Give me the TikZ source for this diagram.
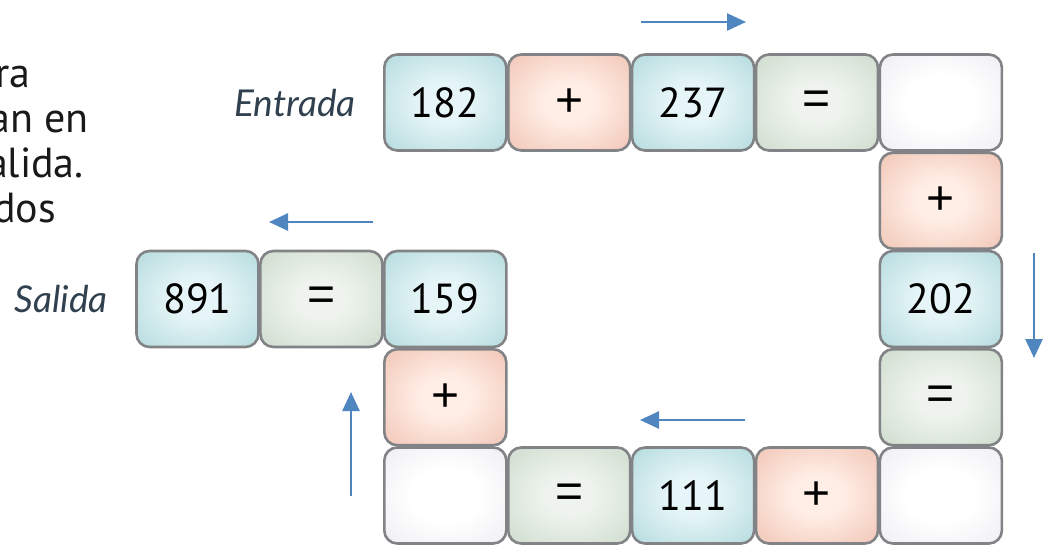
\documentclass[tikz,border=0pt]{standalone}
\usepackage{fontspec}
\setmainfont{PT Sans}
\newfontfamily\labelfont{Lato}
\newfontfamily\opfont{Liberation Sans}
\usetikzlibrary{arrows.meta}
\definecolor{tileborder}{RGB}{130,131,134}
\definecolor{arrowblue}{RGB}{79,134,192}
\definecolor{labelgray}{RGB}{48,64,78}
\definecolor{bA}{RGB}{230,245,247}
\definecolor{bB}{RGB}{180,219,222}
\definecolor{bC}{RGB}{150,199,204}
\definecolor{rA}{RGB}{255,238,230}
\definecolor{rB}{RGB}{241,198,182}
\definecolor{rC}{RGB}{226,165,144}
\definecolor{gA}{RGB}{238,244,237}
\definecolor{gB}{RGB}{207,220,207}
\definecolor{gC}{RGB}{174,193,178}
\definecolor{wA}{RGB}{255,255,255}
\definecolor{wB}{RGB}{237,237,242}
\definecolor{wC}{RGB}{197,198,208}
\pgfdeclareradialshading{blueglow}{\pgfpoint{0bp}{0bp}}{color(0bp)=(bA); color(10bp)=(bA); color(36bp)=(bB); color(50bp)=(bC); color(75bp)=(bC)}
\pgfdeclareradialshading{redglow}{\pgfpoint{0bp}{0bp}}{color(0bp)=(rA); color(10bp)=(rA); color(36bp)=(rB); color(50bp)=(rC); color(75bp)=(rC)}
\pgfdeclareradialshading{greenglow}{\pgfpoint{0bp}{0bp}}{color(0bp)=(gA); color(10bp)=(gA); color(36bp)=(gB); color(50bp)=(gC); color(75bp)=(gC)}
\pgfdeclareradialshading{whiteglow}{\pgfpoint{0bp}{0bp}}{color(0bp)=(wA); color(14bp)=(wA); color(38bp)=(wB); color(50bp)=(wC); color(75bp)=(wC)}
\tikzset{
  tile/.style={shade, draw=tileborder, line width=2.6pt, rounded corners=13pt,
    minimum width=122pt, minimum height=96pt, inner sep=0pt,
    font=\fontsize{42}{42}\selectfont, text=black},
  bluetile/.style={tile, shading=blueglow},
  redtile/.style={tile, shading=redglow, font=\opfont\fontsize{48}{48}\selectfont},
  greentile/.style={tile, shading=greenglow, font=\opfont\fontsize{48}{48}\selectfont},
  whitetile/.style={tile, shading=whiteglow},
  flowarrow/.style={draw=arrowblue, line width=2.6pt, -{Triangle[length=19pt,width=17pt]}},
  sidelabel/.style={font=\labelfont\itshape\fontsize{37}{37}\selectfont, text=labelgray, inner sep=0pt},
  bodytext/.style={font=\fontsize{42}{42}\selectfont, text=black!90, inner sep=0pt, anchor=base east}
}
\begin{document}
\begin{tikzpicture}[x=1pt,y=-1pt]
\useasboundingbox (0,0) rectangle (1045,554);
% body text, cut off at the left edge as in the reference
\node[bodytext] (t1) at (31,87) {ra};
\node[bodytext] (t2) at (89,132) {an en};
\node[bodytext] (t3) at (84,177) {alida.};
\node[bodytext] (t4) at (56,222) {dos};
% labels
\node[sidelabel] (entrada) at (295,103) {Entrada};
\node[sidelabel] (salida) at (61,299) {Salida};
% row 0
\node[bluetile]  (a1) at (445.3,102.5) {182};
\node[redtile]   (a2) at (569.2,102.5) {+};
\node[bluetile]  (a3) at (693.1,102.5) {237};
\node[greentile] (a4) at (817.0,102.5) {=};
\node[whitetile] (a5) at (940.9,102.5) {};
% right column
\node[redtile]   (b1) at (940.9,200.75) {+};
\node[bluetile]  (b2) at (940.9,299.0) {202};
\node[greentile] (b3) at (940.9,397.25) {=};
\node[whitetile] (b4) at (940.9,495.5) {};
% bottom row
\node[redtile]   (c1) at (817.0,495.5) {+};
\node[bluetile]  (c2) at (693.1,495.5) {111};
\node[greentile] (c3) at (569.2,495.5) {=};
\node[whitetile] (c4) at (445.3,495.5) {};
% left column
\node[redtile]   (d1) at (445.3,397.25) {+};
\node[bluetile]  (d2) at (445.3,299.0) {159};
\node[greentile] (d3) at (321.4,299.0) {=};
\node[bluetile]  (d4) at (197.5,299.0) {891};
% arrows
\coordinate (p1s) at (641,22);   \coordinate (p1e) at (746,22);
\coordinate (p2s) at (1034,253); \coordinate (p2e) at (1034,358);
\coordinate (p3s) at (745,420);  \coordinate (p3e) at (640,420);
\coordinate (p4s) at (351,496);  \coordinate (p4e) at (351,392);
\coordinate (p5s) at (373,222);  \coordinate (p5e) at (269,222);
\draw[flowarrow] (p1s) -- (p1e);
\draw[flowarrow] (p2s) -- (p2e);
\draw[flowarrow] (p3s) -- (p3e);
\draw[flowarrow] (p4s) -- (p4e);
\draw[flowarrow] (p5s) -- (p5e);
\end{tikzpicture}
\end{document}
